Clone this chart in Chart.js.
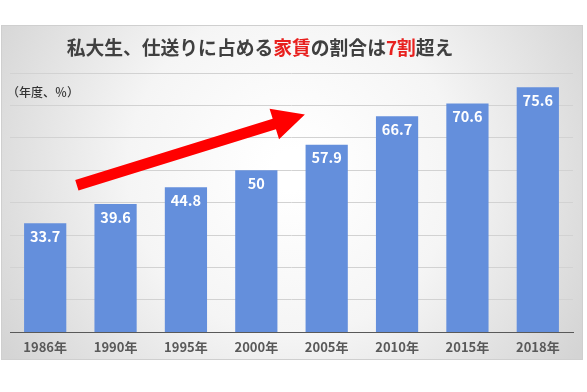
<!DOCTYPE html>
<html>
<head>
<meta charset="utf-8">
<script src="https://cdn.jsdelivr.net/npm/chart.js@4/dist/chart.umd.min.js"></script>
<style>
  html, body { margin: 0; padding: 0; background: #fff; }
  #chart { display: block; }
</style>
</head>
<body>
<canvas id="chart" width="587" height="392"></canvas>
<script>
  const years = ['1986年', '1990年', '1995年', '2000年', '2005年', '2010年', '2015年', '2018年'];
  const rentShare = [33.7, 39.6, 44.8, 50, 57.9, 66.7, 70.6, 75.6];
  const yMax = 80;
  const yStep = 10;

  const titleParts = [
    { text: '私大生、仕送りに占める', red: false },
    { text: '家賃', red: true },
    { text: 'の割合は', red: false },
    { text: '7割', red: true },
    { text: '超え', red: false }
  ];
  const unitLabel = '（年度、％）';

  // arrow ends in data space (category index, value)
  const arrowFrom = [0.45, 45.4];
  const arrowTo = [3.69, 67.2];

  const textGrey = '#404040';
  const red = '#e8201e';
  const cjk = "'Noto Sans CJK JP', 'Noto Sans', sans-serif";
  const narrow = "'Liberation Sans Narrow', 'Noto Sans CJK JP', sans-serif";

  const panel = {
    id: 'panel',
    beforeDraw(chart) {
      const ctx = chart.ctx;
      ctx.save();
      ctx.fillStyle = '#fff';
      ctx.fillRect(0, 0, chart.width, chart.height);
      const g = ctx.createRadialGradient(292, 170, 20, 292, 170, 340);
      g.addColorStop(0, '#ffffff');
      g.addColorStop(0.45, '#f5f5f5');
      g.addColorStop(1, '#d4d4d4');
      ctx.fillStyle = g;
      ctx.fillRect(1.5, 25.5, 581, 334);
      ctx.strokeStyle = '#cfcfcf';
      ctx.lineWidth = 1;
      ctx.strokeRect(1.5, 25.5, 581, 334);

      // title
      ctx.font = 'bold 18.8px ' + cjk;
      ctx.textBaseline = 'middle';
      ctx.textAlign = 'left';
      let total = 0;
      titleParts.forEach(p => total += ctx.measureText(p.text).width);
      let x = 260 - total / 2;
      titleParts.forEach(p => {
        ctx.fillStyle = p.red ? red : textGrey;
        ctx.fillText(p.text, x, 48);
        x += ctx.measureText(p.text).width;
      });

      ctx.font = '500 12px ' + cjk;
      ctx.fillStyle = '#333';
      ctx.fillText(unitLabel, 7, 92);
      ctx.restore();
    }
  };

  const valueLabels = {
    id: 'valueLabels',
    afterDatasetsDraw(chart) {
      const ctx = chart.ctx;
      const meta = chart.getDatasetMeta(0);
      ctx.save();
      ctx.font = 'bold 14.5px ' + narrow;
      ctx.fillStyle = '#fff';
      ctx.textAlign = 'center';
      ctx.textBaseline = 'middle';
      meta.data.forEach((bar, i) => {
        ctx.fillText(String(rentShare[i]), bar.x, bar.y + 13);
      });
      ctx.restore();
    }
  };

  const trendArrow = {
    id: 'trendArrow',
    afterDatasetsDraw(chart) {
      const xs = chart.scales.x, ys = chart.scales.y;
      const x0 = xs.getPixelForValue(arrowFrom[0]), y0 = ys.getPixelForValue(arrowFrom[1]);
      const x1 = xs.getPixelForValue(arrowTo[0]), y1 = ys.getPixelForValue(arrowTo[1]);
      const len = Math.hypot(x1 - x0, y1 - y0);
      const ux = (x1 - x0) / len, uy = (y1 - y0) / len;
      const px = -uy, py = ux;
      const shaft = 5.5, headLen = 32, headHalf = 16;
      const bx = x1 - ux * headLen, by = y1 - uy * headLen;
      const ctx = chart.ctx;
      ctx.save();
      ctx.fillStyle = '#ff0000';
      ctx.beginPath();
      ctx.moveTo(x0 + px * shaft, y0 + py * shaft);
      ctx.lineTo(bx + px * shaft, by + py * shaft);
      ctx.lineTo(bx + px * headHalf, by + py * headHalf);
      ctx.lineTo(x1, y1);
      ctx.lineTo(bx - px * headHalf, by - py * headHalf);
      ctx.lineTo(bx - px * shaft, by - py * shaft);
      ctx.lineTo(x0 - px * shaft, y0 - py * shaft);
      ctx.closePath();
      ctx.fill();
      ctx.restore();
    }
  };

  new Chart(document.getElementById('chart').getContext('2d'), {
    type: 'bar',
    data: {
      labels: years,
      datasets: [{
        data: rentShare,
        backgroundColor: 'rgb(100, 143, 220)',
        barPercentage: 0.6,
        categoryPercentage: 1
      }]
    },
    options: {
      responsive: false,
      animation: false,
      devicePixelRatio: 1,
      layout: { padding: { left: 10, right: 14, top: 73, bottom: 30 } },
      plugins: {
        legend: { display: false },
        tooltip: { enabled: false }
      },
      scales: {
        x: {
          grid: { display: false, drawTicks: false },
          border: { display: true, color: '#595959', width: 1 },
          ticks: {
            color: '#595959',
            padding: 7,
            font: { family: narrow, size: 13, weight: 'bold' }
          }
        },
        y: {
          min: 0,
          max: yMax,
          ticks: { display: false, stepSize: yStep },
          border: { display: false },
          grid: {
            drawTicks: false,
            color: c => c.tick.value === 0 ? '#595959' : '#d2d2d2'
          }
        }
      }
    },
    plugins: [panel, trendArrow, valueLabels]
  });
</script>
</body>
</html>
